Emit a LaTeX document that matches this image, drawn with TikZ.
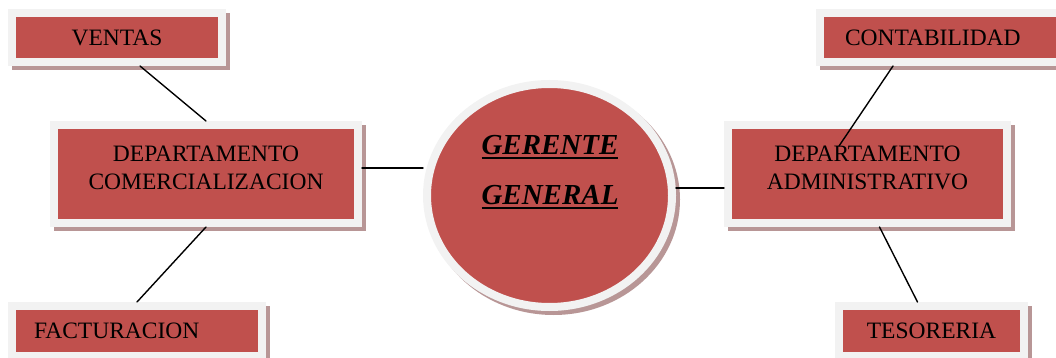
\documentclass[tikz,border=0pt]{standalone}
\usepackage{fontspec}
\setmainfont{Liberation Serif}
\usetikzlibrary{shadows, calc, shapes.geometric}

\definecolor{boxred}{HTML}{C0504D}
\definecolor{framegray}{HTML}{F2F2F2}
\definecolor{shadowrose}{RGB}{184,150,150}

\newcommand{\thickul}[1]{\setbox0\hbox{#1}\rlap{\rule[-5pt]{\wd0}{2.5pt}}\box0}

\begin{document}
\begin{tikzpicture}[x=1pt, y=-1pt,
    unit/.style={rectangle, fill=boxred, draw=framegray, line width=8pt, inner sep=0pt,
        drop shadow={shadow xshift=4pt, shadow yshift=-4pt, fill=shadowrose, draw=shadowrose, line width=8pt, opacity=1},
        font=\fontsize{23.5}{27.7}\selectfont, align=center},
    disc/.style={ellipse, fill=boxred, draw=framegray, line width=8pt, inner sep=0pt,
        drop shadow={shadow xshift=4pt, shadow yshift=-4pt, fill=shadowrose, draw=shadowrose, line width=8pt, opacity=1}},
    link/.style={line width=1.4pt, line cap=round}]

    \useasboundingbox (0,0) rectangle (1056,358);

    \node (gg) [disc, minimum width=245pt, minimum height=223pt] at (549.5,195.5) {};
    \node (ggtxt) [font=\fontsize{29}{50}\selectfont\bfseries\itshape, align=center] at (550,171.9) {\thickul{GERENTE}\\\thickul{GENERAL}};

    \node (ventas) [unit, minimum width=210pt, minimum height=49pt] at (117,37.5) {VENTAS};
    \node (deptcom) [unit, minimum width=304pt, minimum height=98pt, text depth=12pt] at (206,174) {DEPARTAMENTO\\COMERCIALIZACION};
    \node (factura) [unit, minimum width=250pt, minimum height=50pt, text width=206pt, align=left] at (137,331) {FACTURACION};

    \node (contab) [unit, minimum width=246pt, minimum height=49pt, text width=196pt, align=left] at (943,37.5) {CONTABILIDAD};
    \node (deptadm) [unit, minimum width=279pt, minimum height=98pt, text depth=12pt] at (867.5,174) {DEPARTAMENTO\\ADMINISTRATIVO};
    \node (teso) [unit, minimum width=185pt, minimum height=50pt] at (931.5,331) {TESORERIA};

    \draw [link] ([xshift=23pt]ventas.south) -- (deptcom.north);
    \draw [link] (deptcom.south) -- (factura.north);
    \draw [link] ([yshift=6pt]deptcom.east) -- ([yshift=6pt]deptcom.east -| gg.west);
    \draw [link] ([yshift=7.5pt]gg.east) -- ([yshift=7.5pt]gg.east -| deptadm.west);
    \draw [link] ([xshift=-50pt]contab.south) -- ($(deptadm.center)+(-28.5,-28)$);
    \draw [link] ([xshift=12pt]deptadm.south) -- ([xshift=-14pt]teso.north);

\end{tikzpicture}
\end{document}
